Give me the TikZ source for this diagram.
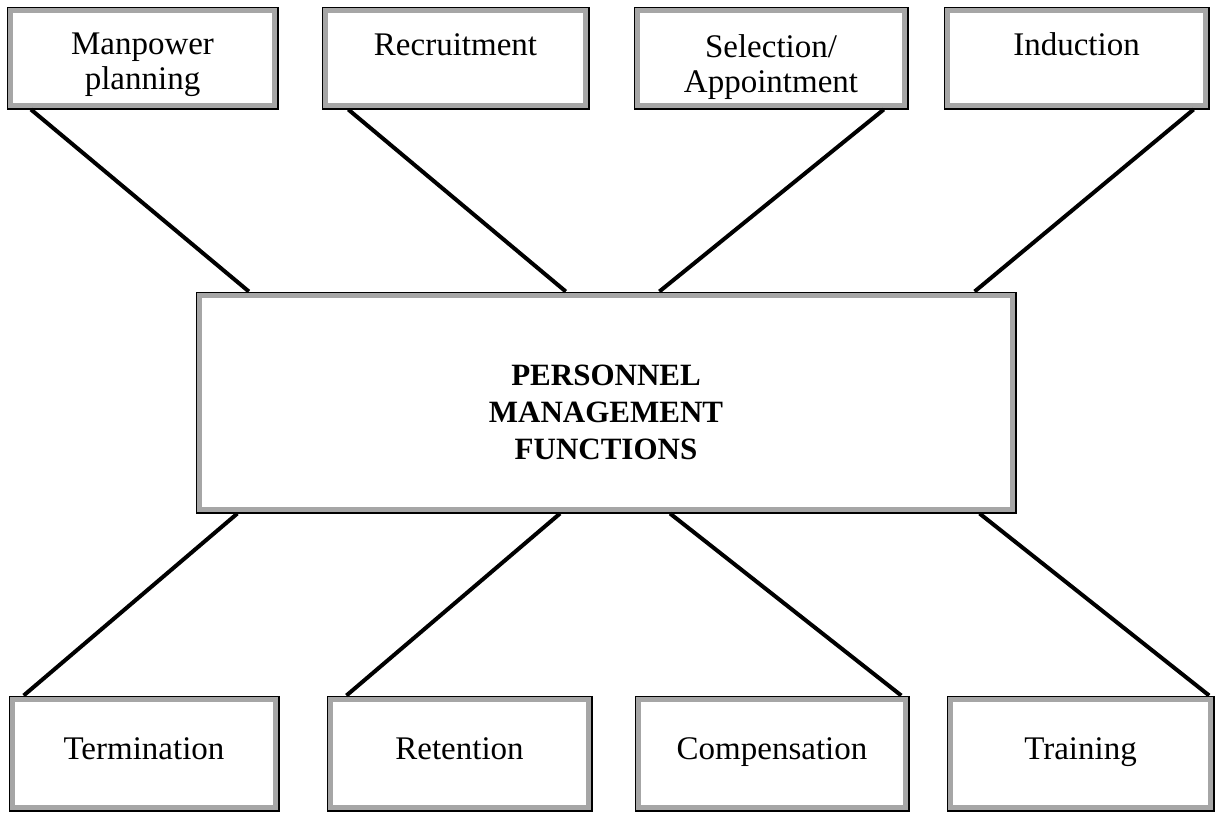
\documentclass[tikz,border=0pt]{standalone}
\usepackage{fontspec}
\setmainfont{Liberation Serif}
\usetikzlibrary{calc}
\begin{document}
\begin{tikzpicture}[x=1pt,y=-1pt,
  frame/.style={draw=black, line width=3pt, fill=white, inner sep=0pt},
  band/.style={gray!70, line width=5pt},
  link/.style={line width=4pt, line cap=butt},
  lbl/.style={font=\fontsize{33}{35}\selectfont, align=center, inner sep=0pt},
  title/.style={font=\fontsize{31}{37}\selectfont\bfseries, align=center, inner sep=0pt}]
\useasboundingbox (0,0) rectangle (1217,812);

% top row
\node[frame, minimum width=269pt, minimum height=100pt] (mp) at (142.5,58) {};
\node[frame, minimum width=265pt, minimum height=100pt] (rc) at (455.5,58) {};
\node[frame, minimum width=272pt, minimum height=100pt] (sa) at (771,58) {};
\node[frame, minimum width=263pt, minimum height=100pt] (in) at (1076.5,58) {};
% centre
\node[frame, minimum width=818pt, minimum height=219pt] (pm) at (606,402.5) {};
% bottom row
\node[frame, minimum width=268pt, minimum height=113pt] (tm) at (144,753.5) {};
\node[frame, minimum width=263pt, minimum height=113pt] (rt) at (459.5,753.5) {};
\node[frame, minimum width=272pt, minimum height=113pt] (cp) at (772,753.5) {};
\node[frame, minimum width=265pt, minimum height=113pt] (tr) at (1080.5,753.5) {};

% grey inner band of every frame
\foreach \n in {mp,rc,sa,in,pm,tm,rt,cp,tr}
  \draw[band]
    ([shift={(4pt,-4pt)}]\n.north west) rectangle ([shift={(-4pt,4pt)}]\n.south east);

% labels
\node[lbl, anchor=north] (mp-t) at (mp.center |- 0,33) {Manpower\\planning};
\node[lbl, anchor=base] (rc-t) at (rc.center |- 0,55) {Recruitment};
\node[lbl, anchor=north] (sa-t) at (sa.center |- 0,34) {Selection/\\Appointment};
\node[lbl, anchor=base] (in-t) at (in.center |- 0,55) {Induction};
\node[title] (pm-t) at ([yshift=-10pt]pm.center) {PERSONNEL\\MANAGEMENT\\FUNCTIONS};
\node[lbl, anchor=base] (tm-t) at (tm.center |- 0,759) {Termination};
\node[lbl, anchor=base] (rt-t) at (rt.center |- 0,759) {Retention};
\node[lbl, anchor=base] (cp-t) at (cp.center |- 0,759) {Compensation};
\node[lbl, anchor=base] (tr-t) at (tr.center |- 0,759) {Training};

% connectors
\draw[link] ($(mp.south west)!0.09!(mp.south east)$) -- ($(pm.north west)!0.065!(pm.north east)$);
\draw[link] ($(rc.south west)!0.10!(rc.south east)$) -- ($(pm.north west)!0.451!(pm.north east)$);
\draw[link] ($(sa.south west)!0.91!(sa.south east)$) -- ($(pm.north west)!0.565!(pm.north east)$);
\draw[link] ($(in.south west)!0.94!(in.south east)$) -- ($(pm.north west)!0.949!(pm.north east)$);
\draw[link] ($(pm.south west)!0.051!(pm.south east)$) -- ($(tm.north west)!0.056!(tm.north east)$);
\draw[link] ($(pm.south west)!0.444!(pm.south east)$) -- ($(rt.north west)!0.075!(rt.north east)$);
\draw[link] ($(pm.south west)!0.578!(pm.south east)$) -- ($(cp.north west)!0.97!(cp.north east)$);
\draw[link] ($(pm.south west)!0.955!(pm.south east)$) -- ($(tr.north west)!0.98!(tr.north east)$);
\end{tikzpicture}
\end{document}
